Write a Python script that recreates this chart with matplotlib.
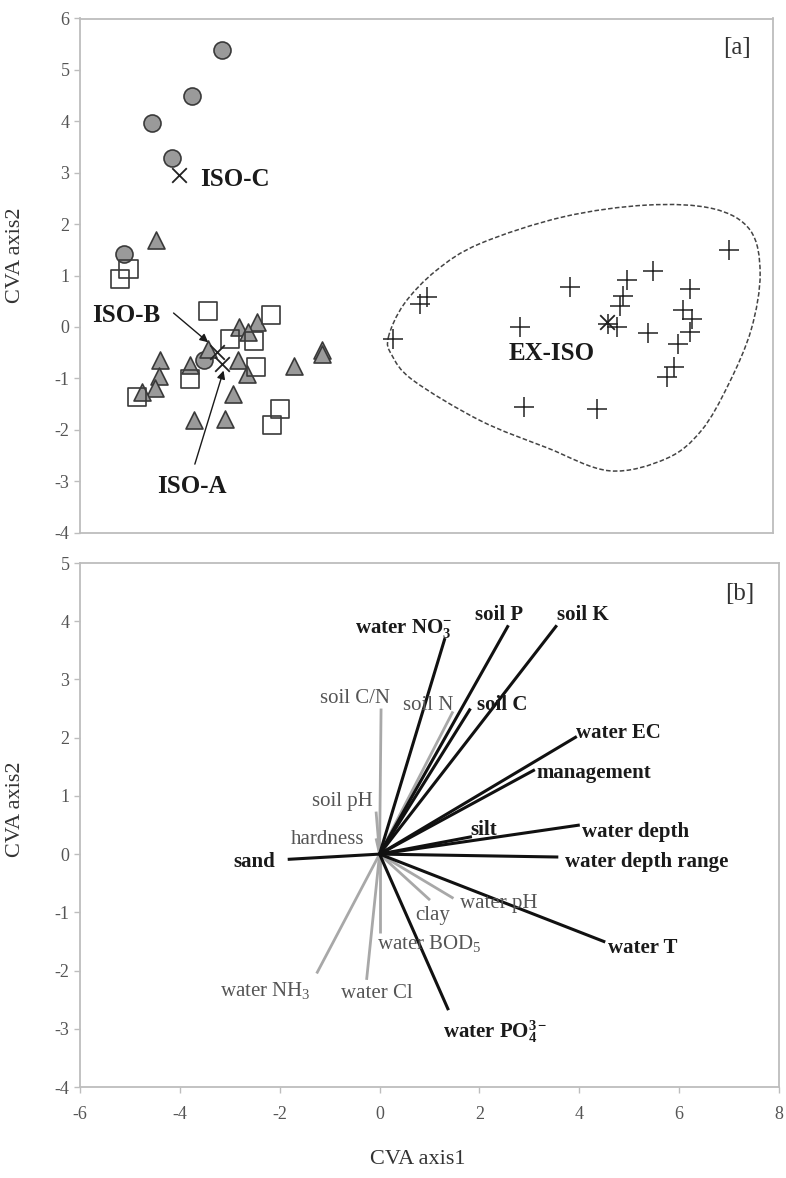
import numpy as np
import matplotlib
matplotlib.use("Agg")
import matplotlib.pyplot as plt
from matplotlib.path import Path
from matplotlib.patches import PathPatch

plt.rcParams['font.family'] = ['Liberation Serif', 'DejaVu Serif']
plt.rcParams['mathtext.fontset'] = 'custom'
plt.rcParams['mathtext.rm'] = 'Liberation Serif'
plt.rcParams['mathtext.bf'] = 'Liberation Serif:bold'
plt.rcParams['mathtext.it'] = 'Liberation Serif:italic'
plt.rcParams['axes.unicode_minus'] = False

# ---------------- data: panel [a] ----------------
isoC_x = [-3.14, -3.73, -4.54, -4.15, -5.12, -3.49]
isoC_y = [5.38, 4.49, 3.97, 3.28, 1.41, -0.64]

isoA_x = [-4.46, -2.78, -2.43, -2.61, -3.41, -3.78, -4.38, -4.40, -4.48, -4.75,
          -2.80, -2.63, -2.90, -1.67, -1.12, -1.12, -3.70, -3.07]
isoA_y = [1.70, 0.00, 0.09, -0.09, -0.43, -0.75, -0.65, -0.95, -1.19, -1.27,
          -0.65, -0.91, -1.30, -0.77, -0.44, -0.52, -1.82, -1.79]

isoB_x = [-5.02, -5.20, -3.41, -2.15, -2.97, -2.48, -3.78, -4.85, -2.44, -1.96, -2.13]
isoB_y = [1.13, 0.94, 0.31, 0.24, -0.24, -0.28, -1.01, -1.37, -0.78, -1.59, -1.90]

exiso_x = [7.12, 5.57, 6.32, 3.90, 5.06, 4.96, 4.91, 4.84, 1.00, 0.86, 0.33, 2.89,
           5.48, 6.19, 6.36, 6.32, 6.09, 5.99, 5.85, 2.97, 4.44, 4.66]
exiso_y = [1.50, 1.09, 0.74, 0.78, 0.91, 0.61, 0.41, 0.00, 0.58, 0.44, -0.23, 0.00,
           -0.12, 0.32, 0.16, -0.10, -0.33, -0.78, -0.98, -1.55, -1.60, 0.05]

centroid_names = ['ISO-C', 'ISO-B', 'ISO-A', 'EX-ISO']
centroid_x = [-4.00, -3.24, -3.14, 4.64]
centroid_y = [2.95, -0.49, -0.72, 0.09]

hull_x = [0.23, 0.55, 1.20, 2.08, 3.76, 5.45, 6.79, 7.54, 7.74, 7.56, 7.10, 6.55,
          5.85, 4.70, 3.43, 2.08, 0.73, 0.30]
hull_y = [-0.20, 0.45, 1.10, 1.62, 2.14, 2.37, 2.30, 1.88, 1.04, -0.05, -1.12, -2.02,
          -2.56, -2.80, -2.35, -1.82, -1.04, -0.55]

# ---------------- data: panel [b] ----------------
var_names = ['water NO$_{\\mathbf{3}}^{\\mathbf{-}}$', 'soil P', 'soil K', 'soil C/N', 'soil N',
             'soil C', 'water EC', 'management', 'soil pH', 'hardness', 'sand', 'silt',
             'water depth', 'water depth range', 'water pH', 'clay', 'water BOD$_{\\mathrm{5}}$',
             'water T', 'water NH$_{\\mathrm{3}}$', 'water Cl',
             'water PO$_{\\mathbf{4}}^{\\mathbf{3-}}$']
var_x = [1.31, 2.58, 3.55, 0.03, 1.47, 1.82, 3.95, 3.11, -0.07, -0.07, -1.84, 1.85,
         4.01, 3.58, 1.48, 1.01, 0.00, 4.52, -1.26, -0.26, 1.38]
var_y = [3.71, 3.93, 3.93, 2.50, 2.45, 2.50, 2.02, 1.45, 0.73, 0.27, -0.09, 0.30,
         0.50, -0.05, -0.76, -0.79, -1.36, -1.51, -2.05, -2.16, -2.68]
var_major = [True, True, True, False, False, True, True, True, False, False, True, True,
             True, True, False, False, False, True, False, False, True]

# label anchor positions (layout)
lab_pos = [(0.49, 3.88), (2.39, 4.11), (4.07, 4.11), (-0.49, 2.68), (0.97, 2.56),
           (2.46, 2.56), (4.78, 2.08), (4.29, 1.39), (-0.74, 0.90), (-1.04, 0.25),
           (-2.52, -0.13), (2.08, 0.41), (5.13, 0.38), (5.35, -0.13), (2.38, -0.85),
           (1.06, -1.05), (0.99, -1.53), (5.28, -1.62), (-2.29, -2.34), (-0.06, -2.39),
           (2.31, -3.05)]

xticks = [-6, -4, -2, 0, 2, 4, 6, 8]

# ---------------- figure ----------------
fig = plt.figure(figsize=(7.86, 11.78), dpi=100)
W, H = 786.0, 1178.0
axA = fig.add_axes([80 / W, 1 - 532.5 / H, 693 / W, 514 / H])
axB = fig.add_axes([80 / W, 1 - 1087 / H, 699 / W, 524 / H])

spine_col = '#bdbdbd'
tick_col = '#555555'
for ax in (axA, axB):
    for s in ax.spines.values():
        s.set_color(spine_col)
        s.set_linewidth(1.3)
    ax.tick_params(axis='both', colors=spine_col, labelcolor=tick_col, labelsize=13,
                   direction='out', length=4, width=1.0)

# panel a
axA.set_xlim(-6, 8)
axA.set_ylim(-4, 6)
axA.set_yticks(range(-4, 7))
axA.set_xticks([])

face_gray = '#9a9a9a'
edge_dark = '#3a3a3a'
axA.scatter(isoC_x, isoC_y, s=150, marker='o', facecolor=face_gray, edgecolor=edge_dark,
            linewidth=1.2, zorder=3)
axA.scatter(isoA_x, isoA_y, s=150, marker='^', facecolor=face_gray, edgecolor=edge_dark,
            linewidth=1.2, zorder=3)
axA.scatter(isoB_x, isoB_y, s=170, marker='s', facecolor='none', edgecolor=edge_dark,
            linewidth=1.2, zorder=4)
axA.scatter(exiso_x, exiso_y, s=190, marker='+', color='#222222', linewidth=1.1, zorder=3)
axA.scatter(centroid_x, centroid_y, s=110, marker='x', color='#222222', linewidth=1.3, zorder=5)

# hull (closed Catmull-Rom drawn as cubic Bezier path)
P = np.column_stack([hull_x, hull_y])
n = len(P)
verts = [P[0]]
codes = [Path.MOVETO]
for i in range(n):
    p0, p1, p2, p3 = P[i - 1], P[i], P[(i + 1) % n], P[(i + 2) % n]
    c1 = p1 + (p2 - p0) / 6.0
    c2 = p2 - (p3 - p1) / 6.0
    verts += [c1, c2, p2]
    codes += [Path.CURVE4] * 3
axA.add_patch(PathPatch(Path(verts, codes), facecolor='none', edgecolor='#444444',
                        linestyle=(0, (3, 1.5)), linewidth=1.1, zorder=2))

bold_kw = dict(fontsize=18, fontweight='bold', color='#1a1a1a')
axA.text(-3.58, 2.86, 'ISO-C', ha='left', va='center', **bold_kw)
axA.text(-5.06, 0.22, 'ISO-B', ha='center', va='center', **bold_kw)
axA.text(-3.74, -3.10, 'ISO-A', ha='center', va='center', **bold_kw)
axA.text(3.53, -0.52, 'EX-ISO', ha='center', va='center', **bold_kw)
arrow_kw = dict(arrowstyle='-|>', color='#1a1a1a', lw=1.0, mutation_scale=12,
                shrinkA=0, shrinkB=0)
axA.annotate('', xy=(-3.41, -0.30), xytext=(-4.11, 0.27), arrowprops=arrow_kw, zorder=6)
axA.annotate('', xy=(-3.10, -0.85), xytext=(-3.68, -2.67), arrowprops=arrow_kw, zorder=6)
axA.text(7.27, 5.43, '[a]', ha='center', va='center', fontsize=18, color='#333333')

axA.set_ylabel('CVA axis2', fontsize=16, color='#333333')
axA.yaxis.set_label_coords(-0.079, 0.54)

# panel b
axB.set_xlim(-6, 8)
axB.set_ylim(-4, 5)
axB.set_xticks(xticks)
axB.set_yticks(range(-4, 6))

gray_line = '#a8a8a8'
for i in range(len(var_names)):
    if var_major[i]:
        axB.plot([0, var_x[i]], [0, var_y[i]], color='#111111', lw=2.2, zorder=3,
                 solid_capstyle='butt')
    else:
        axB.plot([0, var_x[i]], [0, var_y[i]], color=gray_line, lw=2.0, zorder=2,
                 solid_capstyle='butt')
for i in range(len(var_names)):
    lx, ly = lab_pos[i]
    if var_major[i]:
        axB.text(lx, ly, var_names[i], ha='center', va='center', fontsize=15,
                 fontweight='bold', color='#1a1a1a', zorder=4)
    else:
        axB.text(lx, ly, var_names[i], ha='center', va='center', fontsize=15,
                 color='#555555', zorder=4)
axB.text(7.22, 4.47, '[b]', ha='center', va='center', fontsize=18, color='#333333')

axB.set_ylabel('CVA axis2', fontsize=16, color='#333333')
axB.yaxis.set_label_coords(-0.079, 0.53)
axB.tick_params(axis='x', pad=10)

fig.text(418 / W, 1 - 1160 / H, 'CVA axis1', ha='center', va='center', fontsize=16,
         color='#333333')

fig.savefig('out.png', dpi=100)
